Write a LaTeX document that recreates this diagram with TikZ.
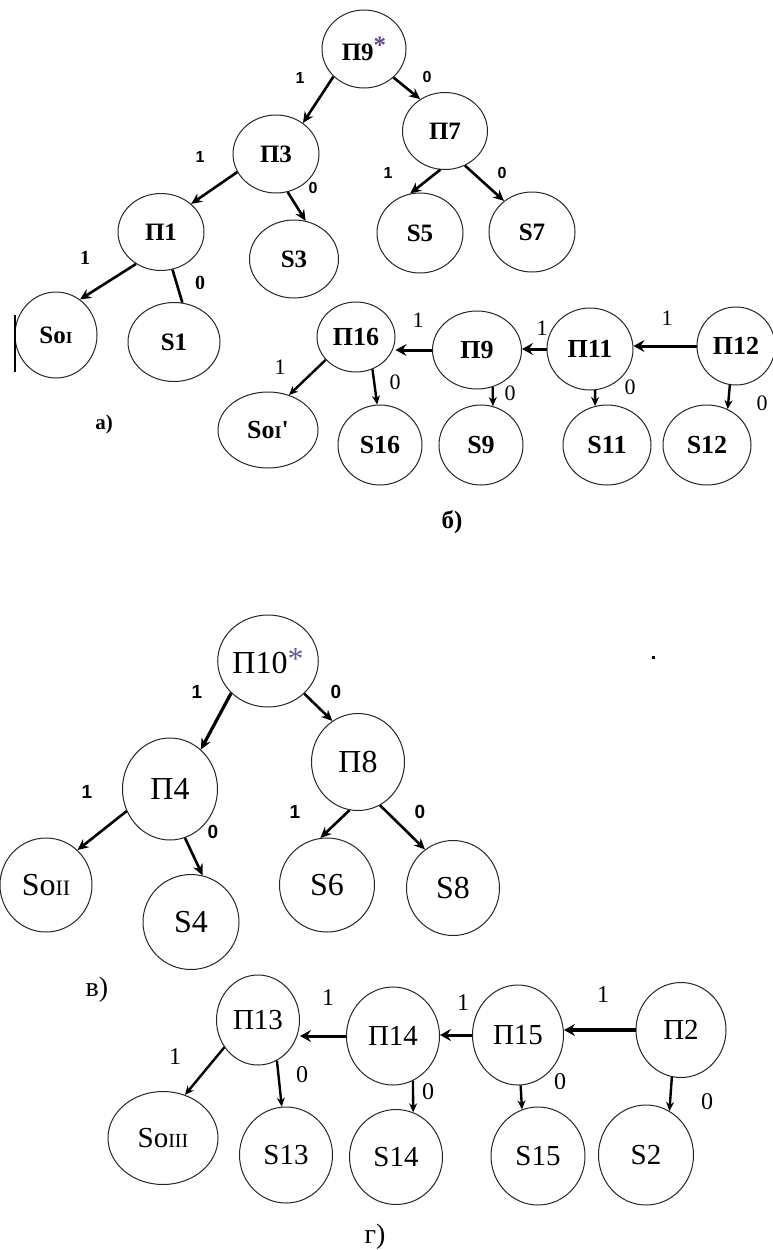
\documentclass[tikz,border=0pt]{standalone}
\usepackage{fontspec}
\setmainfont{Liberation Serif}
\newfontfamily\lsans{Liberation Sans}
\newfontfamily\plainserif[Ligatures=NoCommon,Mapping=]{Liberation Serif}
\usetikzlibrary{shapes.geometric,arrows.meta}
\definecolor{starcol}{rgb}{0.38,0.28,0.55}
\tikzset{
  nd/.style={ellipse, draw=black!85, line width=1pt, inner sep=0pt},
  sz/.style 2 args={minimum width=#1, minimum height=#2},
  fa/.style={font=\fontsize{25}{25}\selectfont\bfseries},
  fb/.style={font=\fontsize{26}{26}\selectfont\bfseries},
  fc/.style={font=\fontsize{32}{32}\selectfont},
  fd/.style={font=\fontsize{29}{29}\selectfont},
  lblA/.style={font=\lsans\fontsize{16}{16}\selectfont\bfseries, inner sep=0pt},
  lblAs/.style={font=\fontsize{20}{20}\selectfont\bfseries, inner sep=0pt},
  lblB/.style={font=\fontsize{22}{22}\selectfont, inner sep=0pt},
  lblC/.style={font=\lsans\fontsize{19}{19}\selectfont\bfseries, inner sep=0pt},
  lblD/.style={font=\fontsize{24}{24}\selectfont, inner sep=0pt},
  captxt/.style={inner sep=0pt},
  arA/.style={line width=2.6pt, -{Stealth[length=11pt,width=10pt]}},
  lnA/.style={line width=2.6pt},
  arV/.style={line width=2.4pt, -{Stealth[length=9pt,width=8pt]}},
  arH/.style={line width=3pt, -{Stealth[length=11pt,width=12pt,inset=4pt]}},
}
\begin{document}
\begin{tikzpicture}[x=1pt,y=-1pt]
\useasboundingbox (0,0) rectangle (773,1250);
\fill[white] (0,0) rectangle (773,1250);

% ---------- a) ----------
\node[nd,sz={84}{78},fa] (p9a) at (364,49) {П9\raisebox{7pt}{\textcolor{starcol}{*}}};
\node[nd,sz={86}{78},fa] (p3a) at (276,154) {П3};
\node[nd,sz={86}{77},fa] (p1a) at (161,232) {П1};
\node[nd,sz={89}{78},fa] (s3a) at (294,259) {S3};
\node[nd,sz={82}{86},fa] (so1a) at (56,335) {So{\fontsize{17}{17}\selectfont I}};
\node[nd,sz={92}{79},fa] (s1a) at (174,342) {S1};
\node[nd,sz={85}{77},fa] (p7a) at (445,131) {П7};
\node[nd,sz={86}{80},fa] (s5a) at (420,233) {S5};
\node[nd,sz={86}{80},fa] (s7a) at (532,232) {S7};
\draw[line width=2pt] (15,315) -- (15,372);

\draw[arA] (p9a.222) -- (p3a.49);
\draw[arA] (p9a.-44) -- (p7a.128);
\draw[arA] (p3a.205) -- (p1a.43);
\draw[arA] (p3a.-73) -- (s3a.73);
\draw[arA] (p1a.232) -- (so1a.56);
\draw[lnA] (p1a.-73) -- (s1a.78);
\draw[arA] (p7a.-97) -- (s5a.104);
\draw[arA] (p7a.-60) -- (s7a.132);

\node[lblA] (la1) at (300,78) {1};
\node[lblA] (la2) at (427,77) {0};
\node[lblA] (la3) at (200,157) {1};
\node[lblA] (la4) at (313,188) {0};
\node[lblAs] (la5) at (85,258) {1};
\node[lblAs] (la6) at (200,283) {0};
\node[lblA] (la7) at (388,173) {1};
\node[lblA] (la8) at (502,173) {0};
\node[captxt,font=\fontsize{21}{21}\selectfont\bfseries] (capa) at (104,424) {а)};

% ---------- b) ----------
\node[nd,sz={78}{70},fb] (p16) at (356,337) {П16};
\node[nd,sz={89}{78},fb] (p9b) at (477,350) {П9};
\node[nd,sz={86}{82},fb] (p11) at (590,349) {П11};
\node[nd,sz={78}{78},fb] (p12) at (736,346) {П12};
\node[nd,sz={100}{76},fb] (sor) at (268,430) {So{\fontsize{18}{18}\selectfont I}{\plainserif\bfseries '}};
\node[nd,sz={84}{80},fb] (s16) at (380,445) {S16};
\node[nd,sz={84}{80},fb] (s9) at (481,445) {S9\hspace{18pt}};
\node[nd,sz={88}{80},fb] (s11) at (607,445) {S11};
\node[nd,sz={88}{80},fb] (s12) at (707,445) {S12};

\draw[arH] (p9b.west) -- (p9b.west -| p16.east);
\draw[arH] (p11.west) -- (p11.west -| p9b.east);
\draw[arH] (p12.west) -- (p12.west -| p11.east);
\draw[arV] (p16.217) -- (sor.59);
\draw[arV] (p16.-63) -- (s16.94);
\draw[arV] (p9b.-67) -- (s9.73);
\draw[arV] (p11.-83) -- (s11.107);
\draw[arV] (p12.-99) -- (s12.60);

\node[lblB] (lb1) at (418,320) {1};
\node[lblB] (lb2) at (542,328) {1};
\node[lblB] (lb3) at (667,318) {1};
\node[lblB] (lb4) at (280,367) {1};
\node[lblB] (lb5) at (395,382) {0};
\node[lblB] (lb6) at (510,393) {0};
\node[lblB] (lb7) at (630,387) {0};
\node[lblB] (lb8) at (762,403) {0};
\node[captxt,font=\fontsize{25}{25}\selectfont\bfseries] (capb) at (452,522) {б)};

% ---------- v) ----------
\node[nd,sz={94}{92},fc] (p10) at (268,661) {П10\raisebox{4pt}{\textcolor{starcol!70!gray}{*}}};
\node[nd,sz={95}{102},fc] (p4) at (170,789) {П4};
\node[nd,sz={93}{97},fc] (p8) at (358,762) {П8};
\node[nd,sz={92}{94},fc] (son) at (46,885) {So{\fontsize{22}{22}\selectfont II}};
\node[nd,sz={96}{95},fc] (s4) at (191,922) {S4};
\node[nd,sz={95}{94},fc] (s6) at (327,885) {S6};
\node[nd,sz={93}{95},fc] (s8) at (453,888) {S8};
\fill (651.5,655.5) rectangle ++(3,3);

\draw[arA,line width=3.2pt] (p10.221) -- (p4.52);
\draw[arA] (p10.-42) -- (p8.122);
\draw[arA] (p4.207) -- (son.48);
\draw[arA] (p4.-73) -- (s4.76);
\draw[arA] (p8.-100) -- (s6.98);
\draw[arA] (p8.-63) -- (s8.126);

\node[lblC] (lc1) at (197,692) {1};
\node[lblC] (lc2) at (336,692) {0};
\node[lblC] (lc3) at (87,792) {1};
\node[lblC] (lc4) at (213,832) {0};
\node[lblC] (lc5) at (295,812) {1};
\node[lblC] (lc6) at (420,812) {0};
\node[captxt,font=\fontsize{28}{28}\selectfont] (capc) at (97,990) {в)};

% ---------- g) ----------
\node[nd,sz={83}{90},fd] (p13) at (258,1020) {П13};
\node[nd,sz={93}{98},fd] (p14) at (393,1036) {П14};
\node[nd,sz={91}{100},fd] (p15) at (518,1035) {П15};
\node[nd,sz={90}{95},fd] (p2) at (681,1030) {П2};
\node[nd,sz={110}{93},fd] (som) at (163,1138) {So{\fontsize{20}{20}\selectfont III}};
\node[nd,sz={93}{96},fd] (s13) at (286,1155) {S13};
\node[nd,sz={93}{95},fd] (s14) at (396,1157) {S14};
\node[nd,sz={94}{98},fd] (s15) at (538,1156) {S15};
\node[nd,sz={95}{100},fd] (s2) at (646,1155) {S2};

\draw[arH] (p14.west) -- (p14.west -| p13.east);
\draw[arH] (p15.west) -- (p15.west -| p14.east);
\draw[arH,line width=4pt] (p2.west) -- (p2.west -| p15.east);
\draw[arV] (p13.219) -- (som.63);
\draw[arV] (p13.-65) -- (s13.95);
\draw[arV] (p14.-66) -- (s14.69);
\draw[arV] (p15.-87) -- (s15.109);
\draw[arV] (p2.-101) -- (s2.62);

\node[lblD] (ld1) at (328,998) {1};
\node[lblD] (ld2) at (463,1003) {1};
\node[lblD] (ld3) at (603,995) {1};
\node[lblD] (ld4) at (175,1057) {1};
\node[lblD] (ld5) at (302,1075) {0};
\node[lblD] (ld6) at (428,1092) {0};
\node[lblD] (ld7) at (560,1082) {0};
\node[lblD] (ld8) at (707,1102) {0};
\node[captxt,font=\fontsize{28}{28}\selectfont] (capd) at (375,1237) {г)};
\end{tikzpicture}
\end{document}
